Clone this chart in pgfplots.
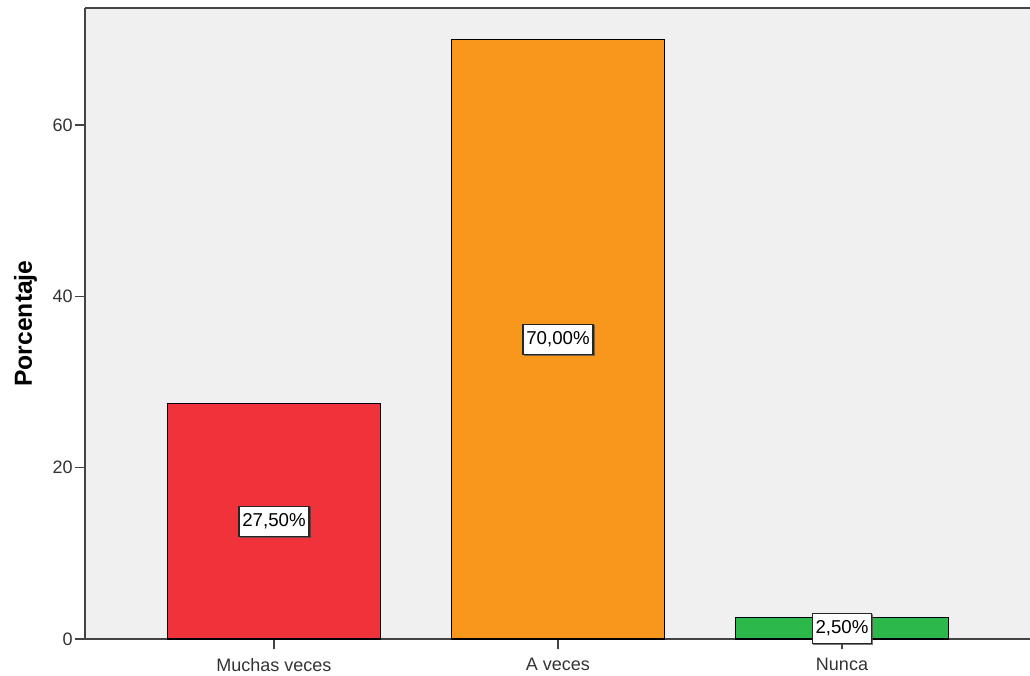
\documentclass[border=0pt]{standalone}
\usepackage{pgfplots}
\pgfplotsset{compat=1.18}
\usepackage{fontspec}
\setmainfont{Liberation Sans}
\usetikzlibrary{shadows}
\definecolor{bg}{HTML}{F0F0F0}
\definecolor{cred}{HTML}{F0323A}
\definecolor{corange}{HTML}{F7981D}
\definecolor{cgreen}{HTML}{2DB84A}
\definecolor{axc}{HTML}{444444}
\definecolor{txt}{HTML}{333333}
\begin{document}
\begin{tikzpicture}
\begin{axis}[
  scale only axis,
  width=708.75pt, height=473.25pt,
  xmin=-0.6655, xmax=2.662,
  ymin=0, ymax=73.66,
  axis x line*=bottom, axis y line*=left,
  axis line style={-, draw=axc, line width=1.3pt},
  axis background/.style={fill=bg},
  tick align=outside,
  major tick length=7.5pt,
  tick style={draw=axc, line width=1pt},
  /pgf/number format/assume math mode=true,
  xtick={0,1,2},
  xticklabels={Muchas veces, A veces, Nunca},
  ytick={0,20,40,60},
  ticklabel style={font=\fontsize{13.5pt}{16pt}\selectfont, text=txt},
  xticklabel style={yshift=-3.5pt},
  yticklabel style={inner sep=1.5pt},
  ylabel={Porcentaje},
  every axis y label/.style={at={(rel axis cs:0,0.5)}, xshift=-39.75pt, anchor=base, rotate=90, font=\fontsize{18.5pt}{22pt}\selectfont\bfseries},
  clip=false,
]
\addplot[ybar, bar shift=0pt, bar width=0.75, fill=cred, draw=black, line width=1pt] coordinates {(0,27.5)};
\addplot[ybar, bar shift=0pt, bar width=0.75, fill=corange, draw=black, line width=1pt] coordinates {(1,70)};
\addplot[ybar, bar shift=0pt, bar width=0.75, fill=cgreen, draw=black, line width=1pt] coordinates {(2,2.5)};
\addplot[only marks, mark=none, point meta=explicit symbolic, nodes near coords,
  every node near coord/.style={anchor=center, fill=white, draw=black!85, line width=0.8pt,
    inner xsep=2.5pt, inner ysep=5.5pt,
    font=\fontsize{14pt}{16pt}\selectfont,
    drop shadow={shadow xshift=0.8pt, shadow yshift=-1.2pt, fill=gray!80, opacity=0.5}}]
  table[meta=lab] {
x y lab
0 13.75 27,50\%
1 35 70,00\%
2 1.25 2,50\%
};
\draw[axc, line width=1.3pt] (rel axis cs:0,1) -- (rel axis cs:1,1);
\coordinate (bl) at (rel axis cs:0,0);
\coordinate (tr) at (rel axis cs:1,1);
\end{axis}
\pgfresetboundingbox
\path[use as bounding box] ([xshift=-63.75pt,yshift=-27pt]bl) rectangle ([yshift=6pt]tr);
\end{tikzpicture}
\end{document}
